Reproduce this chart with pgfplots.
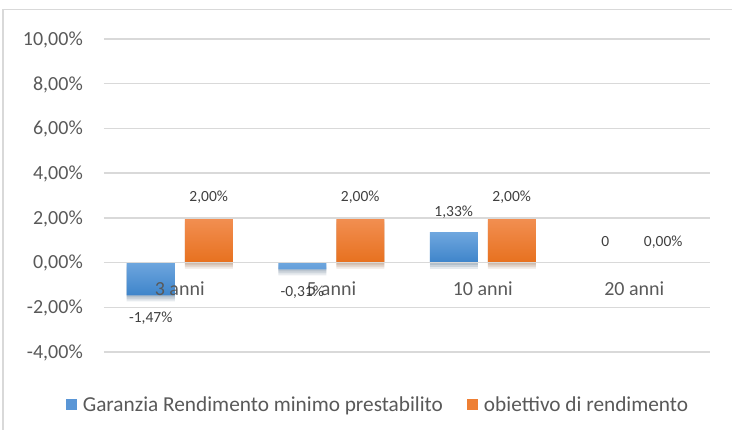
\documentclass[border=0pt]{standalone}
\usepackage{fontspec}
\setmainfont{Carlito}
\usepackage{pgfplots}
\pgfplotsset{compat=1.18}
\definecolor{gridc}{HTML}{D9D9D9}
\definecolor{txt}{HTML}{595959}
\definecolor{lbl}{HTML}{404040}
\definecolor{bluetop}{HTML}{6EA6DE}
\definecolor{bluebot}{HTML}{3E84CA}
\definecolor{orgtop}{HTML}{F28F52}
\definecolor{orgbot}{HTML}{E7711F}
\definecolor{bluemid}{HTML}{5A96D6}
\definecolor{orgmid}{HTML}{EE7F34}
\tikzset{barshadow/.style={
  preaction={fill=black, fill opacity=0.07, transform canvas={yshift=-2pt}},
  preaction={fill=black, fill opacity=0.07, transform canvas={yshift=-4pt}},
  preaction={fill=black, fill opacity=0.06, transform canvas={yshift=-6pt}}}}
\begin{document}
\begin{tikzpicture}[x=1pt,y=1pt]
\useasboundingbox (0,0) rectangle (732,430);
\draw[gridc, line width=1.3pt] (3,0) -- (3,420.5) -- (732,420.5);
\begin{axis}[
  axis on top,
  at={(104pt,78pt)}, anchor=south west,
  scale only axis, width=606pt, height=313pt,
  xmin=-0.5, xmax=3.5, ymin=-4, ymax=10,
  ybar, bar width=48pt,
  axis line style={draw=none},
  major tick length=0pt,
  tick style={draw=none},
  ymajorgrids, grid style={gridc, line width=1.3pt},
  ytick={-4,-2,0,2,4,6,8,10},
  yticklabels={{-4,00\%},{-2,00\%},{0,00\%},{2,00\%},{4,00\%},{6,00\%},{8,00\%},{10,00\%}},
  xtick={0,1,2,3},
  xticklabels={3 anni,5 anni,10 anni,20 anni},
  ticklabel style={font=\fontsize{20}{24}\selectfont, text=txt},
  yticklabel style={anchor=base east, inner sep=0pt, xshift=-21pt, yshift=-6.3pt},
  xticklabel style={anchor=base, inner sep=0pt, yshift=56pt},
  nodes near coords,
  point meta=explicit symbolic,
  every node near coord/.append style={font=\fontsize{15.5}{18}\selectfont, text=lbl, inner sep=0pt},
  legend style={at={(0.4505,-0.169)}, anchor=center, draw=none, fill=none,
    legend columns=2, font=\fontsize{21.3}{24}\selectfont, text=txt,
    /tikz/every even column/.append style={column sep=24pt},
    nodes={inner xsep=0pt}},
  legend cell align=left,
]
% blue, negative values (labels below)
\addplot[draw=none, top color=bluetop, bottom color=bluebot, bar shift=-29pt, barshadow,
  every node near coord/.append style={anchor=north, yshift=-16pt},
  legend image code/.code={\pgfpathrectangle{\pgfpoint{0pt}{-5.5pt}}{\pgfpoint{11pt}{11pt}}\pgfsetfillcolor{bluemid}\pgfusepath{fill}\path (17pt,0pt);}]
  coordinates {(0,-1.47) [-1,47\%] (1,-0.31) [-0,31\%]};
\addlegendentry{Garanzia Rendimento minimo prestabilito}
% orange
\addplot[draw=none, top color=orgtop, bottom color=orgbot, bar shift=29pt, barshadow,
  every node near coord/.append style={anchor=base, yshift=16pt},
  legend image code/.code={\pgfpathrectangle{\pgfpoint{0pt}{-5.5pt}}{\pgfpoint{11pt}{11pt}}\pgfsetfillcolor{orgmid}\pgfusepath{fill}\path (17pt,0pt);}]
  coordinates {(0,2) [2,00\%] (1,2) [2,00\%] (2,2) [2,00\%]};
\addlegendentry{obiettivo di rendimento}
% blue, positive value
\addplot[draw=none, top color=bluetop, bottom color=bluebot, bar shift=-29pt, barshadow, forget plot,
  every node near coord/.append style={anchor=base, yshift=16pt}]
  coordinates {(2,1.33) [1,33\%]};
% zero values
\addplot[draw=none, fill=bluemid, bar shift=-29pt, forget plot,
  every node near coord/.append style={anchor=base, yshift=16pt}]
  coordinates {(3,0) [0]};
\addplot[draw=none, fill=orgmid, bar shift=29pt, forget plot,
  every node near coord/.append style={anchor=base, yshift=16pt}]
  coordinates {(3,0) [0,00\%]};
\end{axis}
\end{tikzpicture}
\end{document}
